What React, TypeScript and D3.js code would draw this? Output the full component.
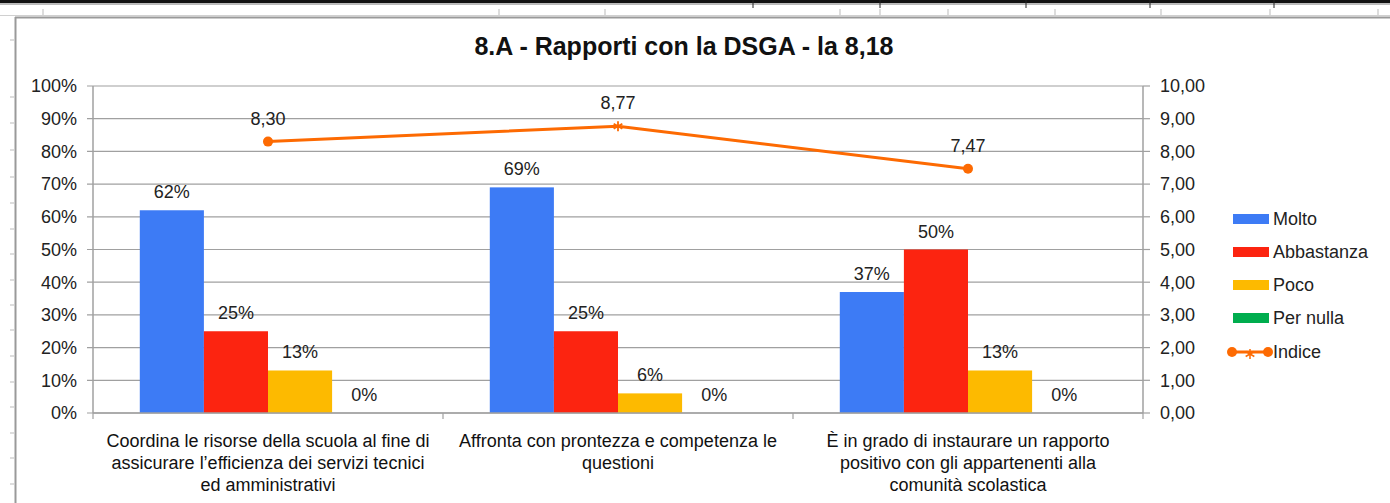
import React from 'react';
import * as d3 from 'd3';

const categoryLines: string[][] = [
  ['Coordina le risorse della scuola al fine di', 'assicurare l’efficienza dei servizi tecnici', 'ed amministrativi'],
  ['Affronta con prontezza e competenza le', 'questioni'],
  ['È in grado di instaurare un rapporto', 'positivo con gli appartenenti alla', 'comunità scolastica'],
];
const categoryKeys = ['c1', 'c2', 'c3'];
const seriesNames = ['Molto', 'Abbastanza', 'Poco', 'Per nulla'];
const molto = [0.62, 0.69, 0.37];
const abbastanza = [0.25, 0.25, 0.5];
const poco = [0.13, 0.06, 0.13];
const perNulla = [0, 0, 0];
const indice = [8.3, 8.77, 7.47];
const indiceMarkers = ['circle', 'star', 'circle'];
const pctTicks = [0, 0.1, 0.2, 0.3, 0.4, 0.5, 0.6, 0.7, 0.8, 0.9, 1.0];
const indTicks = [0, 1, 2, 3, 4, 5, 6, 7, 8, 9, 10];
const title = '8.A - Rapporti con la DSGA - la 8,18';

const seriesValues = [molto, abbastanza, poco, perNulla];
const colors = ['#3d7bf5', '#fc2410', '#fdba00', '#00ad4e'];
const lineColor = '#fd6a02';
const FONT = '"Liberation Sans", Arial, Helvetica, sans-serif';

export default function App() {
  const W = 1390, H = 503;
  const left = 93, right = 1143, top = 86, bottom = 413;
  const x = d3.scaleBand<string>().domain(categoryKeys).range([left, right]).paddingInner(0).paddingOuter(0);
  const xs = d3.scaleBand<string>().domain(seriesNames).range([0, x.bandwidth()]).paddingInner(0).paddingOuter(0.73);
  const yL = d3.scaleLinear().domain([0, 1]).range([bottom, top]);
  const yR = d3.scaleLinear().domain([0, 10]).range([bottom, top]);
  const pct = d3.format('.0%');
  const fmtI = (v: number) => v.toFixed(2).replace('.', ',');
  const cx = (i: number) => (x(categoryKeys[i]) as number) + x.bandwidth() / 2;
  const line = d3.line<number>().x((_, i) => cx(i)).y((d) => yR(d));
  const star = d3.symbol().type(d3.symbolAsterisk).size(70)();
  const grid = '#a0a0a0';
  const FS = 18;

  const rulerTopTicks = [43, 499, 605, 840, 880, 948, 1055, 1161, 1270, 1378];
  const blackTicks = [753, 880, 1026, 1150, 1274];
  const rulerLeftTicks = [40, 97, 123, 150, 177, 203, 229, 254, 280, 305, 330, 356, 382, 407, 433, 458, 484];

  const legendY = [219, 252, 285, 318, 352];

  return (
    <svg width={W} height={H} style={{ position: 'absolute', left: 0, top: 0, background: '#fff' }} fontFamily={FONT}>
      {/* spreadsheet chrome */}
      <rect x={0} y={0} width={W} height={H} fill="#fff" />
      <line x1={0} x2={W} y1={1.5} y2={1.5} stroke="#111" strokeWidth={3} />
      <line x1={0} x2={W} y1={4} y2={4} stroke="#777" strokeWidth={1} />
      {blackTicks.map((t) => <line key={'b' + t} x1={t} x2={t} y1={0} y2={8} stroke="#222" strokeWidth={1} />)}
      {rulerTopTicks.map((t) => <line key={'r' + t} x1={t} x2={t} y1={9} y2={15} stroke="#bbb" strokeWidth={1} />)}
      <line x1={0} x2={W} y1={15.5} y2={15.5} stroke="#d0d0d0" strokeWidth={1} />
      {rulerLeftTicks.map((t) => <line key={'l' + t} x1={10} x2={14} y1={t} y2={t} stroke="#bbb" strokeWidth={1} />)}
      <line x1={15} x2={W} y1={17.5} y2={17.5} stroke="#9a9a9a" strokeWidth={2} />
      <line x1={15.5} x2={15.5} y1={17} y2={H} stroke="#9a9a9a" strokeWidth={2} />

      {/* title */}
      <text x={684} y={55} textAnchor="middle" fontSize={25} fontWeight="bold" fill="#111">{title}</text>

      {/* gridlines */}
      {pctTicks.map((t) => (
        <line key={'g' + t} x1={left - 6} x2={right} y1={yL(t)} y2={yL(t)} stroke={grid} strokeWidth={1.2} />
      ))}
      {indTicks.map((t) => (
        <line key={'rt' + t} x1={right} x2={right + 7} y1={yR(t)} y2={yR(t)} stroke={grid} strokeWidth={1.2} />
      ))}
      <line x1={left} x2={left} y1={top} y2={bottom} stroke={grid} strokeWidth={1.5} />
      <line x1={right} x2={right} y1={top} y2={bottom} stroke={grid} strokeWidth={1.5} />
      {[...categoryKeys.map((k) => x(k) as number), right].map((t, i) => (
        <line key={'xt' + i} x1={t} x2={t} y1={bottom} y2={bottom + 6} stroke={grid} strokeWidth={1.2} />
      ))}

      {/* tick labels */}
      {pctTicks.map((t) => (
        <text key={'lt' + t} x={77} y={yL(t)} dy="0.35em" textAnchor="end" fontSize={FS} fill="#222">{pct(t)}</text>
      ))}
      {indTicks.map((t) => (
        <text key={'rl' + t} x={1160} y={yR(t)} dy="0.35em" textAnchor="start" fontSize={FS} fill="#222">{fmtI(t)}</text>
      ))}

      {/* bars */}
      {seriesValues.map((vals, s) =>
        vals.map((v, i) => {
          const bx = (x(categoryKeys[i]) as number) + (xs(seriesNames[s]) as number);
          return (
            <g key={'bar' + s + '-' + i}>
              <rect x={bx} y={yL(v)} width={xs.bandwidth()} height={bottom - yL(v)} fill={colors[s]} />
              <text x={bx + xs.bandwidth() / 2} y={yL(v) - 12} textAnchor="middle" fontSize={FS} fill="#222">{pct(v)}</text>
            </g>
          );
        })
      )}
      <line x1={left} x2={right} y1={bottom} y2={bottom} stroke={grid} strokeWidth={1.5} />

      {/* line */}
      <path d={line(indice) || ''} fill="none" stroke={lineColor} strokeWidth={3} />
      {indice.map((v, i) => (
        <g key={'m' + i}>
          {indiceMarkers[i] === 'circle' ? (
            <circle cx={cx(i)} cy={yR(v)} r={5} fill={lineColor} />
          ) : (
            <path d={star || ''} transform={`translate(${cx(i)},${yR(v)})`} fill="none" stroke={lineColor} strokeWidth={1.8} />
          )}
          <text x={cx(i)} y={yR(v) - 17} textAnchor="middle" fontSize={FS} fill="#222">{fmtI(v)}</text>
        </g>
      ))}

      {/* category labels */}
      {categoryLines.map((lines, i) => (
        <text key={'cat' + i} x={cx(i)} textAnchor="middle" fontSize={FS} fill="#111">
          {lines.map((ln, j) => (
            <tspan key={j} x={cx(i)} y={447 + j * 22}>{ln}</tspan>
          ))}
        </text>
      ))}

      {/* legend */}
      {seriesNames.map((n, s) => (
        <g key={'lg' + s}>
          <rect x={1233} y={legendY[s] - 5} width={36} height={10} fill={colors[s]} />
          <text x={1273} y={legendY[s]} dy="0.35em" fontSize={FS} fill="#222">{n}</text>
        </g>
      ))}
      <g>
        <line x1={1228} x2={1272} y1={legendY[4]} y2={legendY[4]} stroke={lineColor} strokeWidth={3} />
        <circle cx={1232} cy={legendY[4]} r={5} fill={lineColor} />
        <circle cx={1268} cy={legendY[4]} r={5} fill={lineColor} />
        <path d={star || ''} transform={`translate(1250,${legendY[4] + 2})`} fill="none" stroke={lineColor} strokeWidth={1.5} />
        <text x={1273} y={legendY[4]} dy="0.35em" fontSize={FS} fill="#222">Indice</text>
      </g>
    </svg>
  );
}
